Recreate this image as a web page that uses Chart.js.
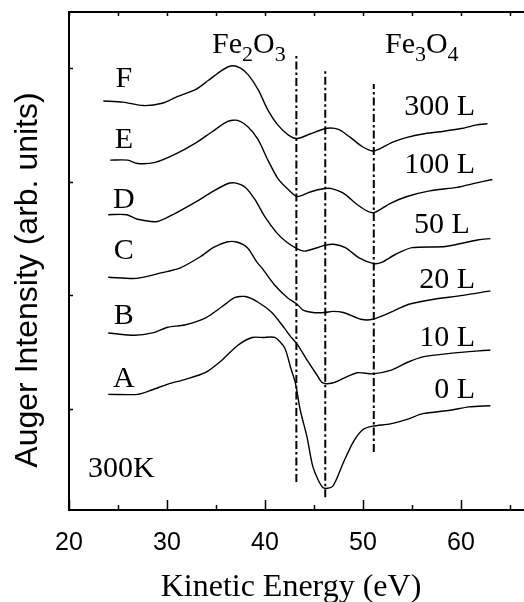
<!DOCTYPE html>
<html>
<head>
<meta charset="utf-8">
<title>Auger spectra</title>
<script src="https://cdn.jsdelivr.net/npm/chart.js@4/dist/chart.umd.min.js"></script>
<style>
  html, body { margin: 0; padding: 0; background: #fff; overflow: hidden; }
  canvas { display: block; }
</style>
</head>
<body>
<canvas id="augerChart" width="524" height="602"></canvas>
<script>
// Fe Auger spectra after O2 exposure, stacked with offsets (A = clean ... F = 300 L)
var energyA = [24.0, 27.0, 28.5, 30.1, 31.8, 33.9, 35.6, 37.2, 38.7, 39.8, 41.0, 42.0, 42.6, 43.1, 43.6, 44.3, 44.9, 45.9, 46.9, 48.0, 49.0, 50.0, 51.0, 52.8, 54.5, 56.1, 58.9, 60.8, 63.0];
var intensityA = [11.3, 11.3, 11.7, 12.2, 12.6, 13.2, 14.3, 15.6, 16.3, 16.3, 16.3, 15.4, 13.7, 12.3, 9.9, 7.5, 4.9, 3.1, 3.2, 5.3, 7.1, 8.2, 8.5, 8.7, 9.1, 9.6, 9.9, 10.2, 10.3];

var energyB = [24.0, 26.7, 28.5, 30.1, 31.8, 33.9, 35.6, 36.9, 38.0, 39.3, 40.7, 42.0, 42.6, 43.3, 44.3, 45.3, 45.9, 46.9, 48.0, 49.4, 51.0, 52.8, 54.5, 56.1, 58.9, 63.0];
var intensityB = [16.7, 16.5, 16.7, 17.2, 17.4, 18.0, 19.0, 19.8, 19.9, 19.4, 18.5, 17.1, 16.4, 15.7, 14.3, 13.0, 12.3, 12.3, 12.7, 13.2, 13.1, 13.4, 14.1, 14.6, 14.9, 15.2];

var energyC = [24.0, 26.9, 29.5, 31.3, 33.4, 34.7, 36.1, 37.1, 38.2, 39.2, 39.7, 41.0, 42.3, 43.3, 43.9, 44.9, 46.1, 46.9, 48.0, 49.8, 51.0, 52.8, 54.6, 56.8, 60.2, 63.0];
var intensityC = [21.6, 21.5, 22.0, 22.4, 23.4, 24.2, 24.7, 24.7, 24.2, 22.9, 22.4, 20.9, 19.8, 19.2, 18.7, 18.5, 18.5, 18.6, 18.5, 17.9, 17.9, 18.5, 19.2, 19.6, 20.0, 20.4];

var energyD = [24.0, 25.9, 27.0, 29.0, 30.8, 32.9, 34.6, 36.1, 36.9, 38.0, 39.0, 40.0, 41.2, 42.2, 43.3, 44.1, 46.1, 47.0, 48.2, 49.6, 51.1, 51.9, 53.3, 55.0, 58.4, 61.8, 63.0];
var intensityD = [27.1, 27.1, 26.7, 26.5, 27.2, 28.2, 29.1, 29.8, 29.9, 29.5, 28.4, 26.9, 25.5, 24.7, 24.1, 23.9, 24.4, 24.5, 24.2, 23.3, 22.8, 22.9, 23.6, 24.2, 24.3, 24.9, 25.0];

var energyE = [24.2, 26.0, 27.0, 28.8, 30.8, 32.9, 34.6, 36.2, 37.2, 38.3, 39.3, 40.3, 41.3, 42.4, 43.3, 44.6, 46.1, 46.8, 48.0, 49.4, 50.5, 51.2, 52.8, 54.5, 56.8, 59.6, 61.6, 63.2];
var intensityE = [31.9, 31.9, 31.6, 31.7, 32.4, 33.4, 34.4, 35.3, 35.4, 34.8, 33.7, 31.9, 30.3, 29.3, 28.7, 29.1, 29.4, 29.4, 29.0, 28.0, 27.4, 27.3, 28.1, 28.7, 29.2, 29.5, 29.9, 30.2];

var energyF = [23.5, 25.5, 27.6, 29.5, 31.1, 32.9, 34.2, 35.6, 36.6, 37.5, 38.3, 39.3, 40.3, 41.3, 42.4, 43.3, 44.6, 46.3, 47.5, 48.7, 49.9, 51.0, 51.7, 53.1, 54.5, 56.1, 57.9, 60.2, 61.6, 62.7];
var intensityF = [37.1, 37.0, 36.7, 36.9, 37.5, 38.1, 38.9, 39.8, 40.2, 40.0, 39.4, 38.1, 36.3, 35.0, 34.1, 33.8, 34.2, 34.7, 34.6, 33.9, 33.1, 32.7, 32.9, 33.5, 33.9, 34.2, 34.4, 34.7, 35.0, 35.1];

// reference energies (Fe2O3 / Fe3O4 features) and the span of each marker line
var markerEnergy = [43.2, 46.15, 51.1];
var markerTop = [41.05, 39.82, 38.59];
var markerBottom = [3.59, 2.24, 6.23];

var curveLetters = ['A', 'B', 'C', 'D', 'E', 'F'];
var exposures = ['0 L', '10 L', '20 L', '50 L', '100 L', '300 L'];
var xTicks = [20, 25, 30, 35, 40, 45, 50, 55, 60, 65];
var yTicks = [10, 20, 30, 40];

function toPoints(xs, ys) {
  return xs.map(function(x, i) { return { x: x, y: ys[i] }; });
}

var spectra = [
  toPoints(energyA, intensityA), toPoints(energyB, intensityB), toPoints(energyC, intensityC),
  toPoints(energyD, intensityD), toPoints(energyE, intensityE), toPoints(energyF, intensityF)
];

var datasets = spectra.map(function(pts, i) {
  return {
    label: curveLetters[i],
    data: pts,
    borderColor: '#000',
    borderWidth: 1.4,
    pointRadius: 0,
    fill: false,
    tension: 0.25
  };
});

markerEnergy.forEach(function(e, i) {
  datasets.push({
    label: 'marker' + i,
    data: [{ x: e, y: markerBottom[i] }, { x: e, y: markerTop[i] }],
    borderColor: '#000',
    borderWidth: 2,
    borderDash: [8, 3, 2.5, 3],
    pointRadius: 0,
    fill: false
  });
});

var SERIF = '"Liberation Serif", "Times New Roman", serif';
var SANS = '"Liberation Sans", Arial, sans-serif';

// formula with subscripts, e.g. [['Fe',0],['2',1],['O',0],['3',1]]
function drawFormula(ctx, parts, x, y) {
  parts.forEach(function(p) {
    ctx.font = (p[1] ? '22px ' : '30px ') + SERIF;
    ctx.fillText(p[0], x, y + (p[1] ? 8 : 0));
    x += ctx.measureText(p[0]).width;
  });
}

var frameAndText = {
  id: 'frameAndText',
  afterDraw: function(chart) {
    var ctx = chart.ctx;
    var a = chart.chartArea;
    var xs = chart.scales.x;
    var ys = chart.scales.y;
    var X = function(v) { return xs.getPixelForValue(v); };
    var Y = function(v) { return ys.getPixelForValue(v); };

    ctx.save();
    ctx.strokeStyle = '#000';
    ctx.fillStyle = '#000';

    // top edge of the frame
    ctx.lineWidth = 2;
    ctx.beginPath();
    ctx.moveTo(a.left - 1, a.top);
    ctx.lineTo(a.right, a.top);
    ctx.stroke();

    // inward tick marks
    ctx.lineWidth = 1.5;
    ctx.beginPath();
    xTicks.forEach(function(v) {
      var px = Math.round(X(v)) + 0.5;
      var len = v % 10 === 0 ? 10 : 5;
      ctx.moveTo(px, a.bottom);
      ctx.lineTo(px, a.bottom - len);
      ctx.moveTo(px, a.top);
      ctx.lineTo(px, a.top + 4);
    });
    yTicks.forEach(function(v) {
      var py = Math.round(Y(v)) + 0.5;
      ctx.moveTo(a.left, py);
      ctx.lineTo(a.left + 4, py);
    });
    ctx.stroke();

    // axis titles
    ctx.font = '32px ' + SERIF;
    ctx.textAlign = 'center';
    ctx.textBaseline = 'alphabetic';
    ctx.fillText('Kinetic Energy (eV)', 291, 596);

    ctx.save();
    ctx.translate(37, 280);
    ctx.rotate(-Math.PI / 2);
    ctx.font = '32px ' + SANS;
    ctx.fillText('Auger Intensity (arb. units)', 0, 0);
    ctx.restore();

    // curve letters on the left
    var letterBase = [11.94, 17.5, 23.2, 27.68, 32.96, 38.33];
    ctx.font = '30px ' + SERIF;
    ctx.textAlign = 'center';
    curveLetters.forEach(function(t, i) {
      ctx.fillText(t, X(25.6), Y(letterBase[i]));
    });

    // exposure doses on the right
    var doseRight = [61.43, 61.43, 61.43, 60.9, 61.43, 61.43];
    var doseBase = [10.98, 15.55, 20.65, 25.49, 30.77, 35.86];
    ctx.textAlign = 'right';
    exposures.forEach(function(t, i) {
      ctx.fillText(t, X(doseRight[i]), Y(doseBase[i]));
    });

    ctx.textAlign = 'left';
    ctx.fillText('300K', X(21.94), Y(4.03));

    drawFormula(ctx, [['Fe', 0], ['2', 1], ['O', 0], ['3', 1]], X(34.59), Y(41.32));
    drawFormula(ctx, [['Fe', 0], ['3', 1], ['O', 0], ['4', 1]], X(52.24), Y(41.32));

    ctx.restore();
  }
};

new Chart(document.getElementById('augerChart'), {
  type: 'line',
  data: { datasets: datasets },
  options: {
    responsive: false,
    animation: false,
    layout: { padding: { top: 12, right: 0, bottom: 0, left: 0 } },
    plugins: {
      legend: { display: false },
      tooltip: { enabled: false }
    },
    scales: {
      x: {
        type: 'linear',
        min: 20,
        max: 66.43,
        afterBuildTicks: function(scale) {
          scale.ticks = xTicks.map(function(v) { return { value: v }; });
        },
        afterFit: function(scale) { scale.height = 92; },
        grid: { display: false },
        border: { display: true, color: '#000', width: 2 },
        ticks: {
          autoSkip: false,
          maxRotation: 0,
          padding: 10,
          color: '#000',
          font: { family: SANS, size: 25 },
          callback: function(v) { return v % 10 === 0 ? String(v) : ''; }
        }
      },
      y: {
        type: 'linear',
        min: 1.126,
        max: 44.93,
        afterFit: function(scale) { scale.width = 69; },
        grid: { display: false },
        border: { display: true, color: '#000', width: 2 },
        ticks: { display: false }
      }
    }
  },
  plugins: [frameAndText]
});
</script>
</body>
</html>
